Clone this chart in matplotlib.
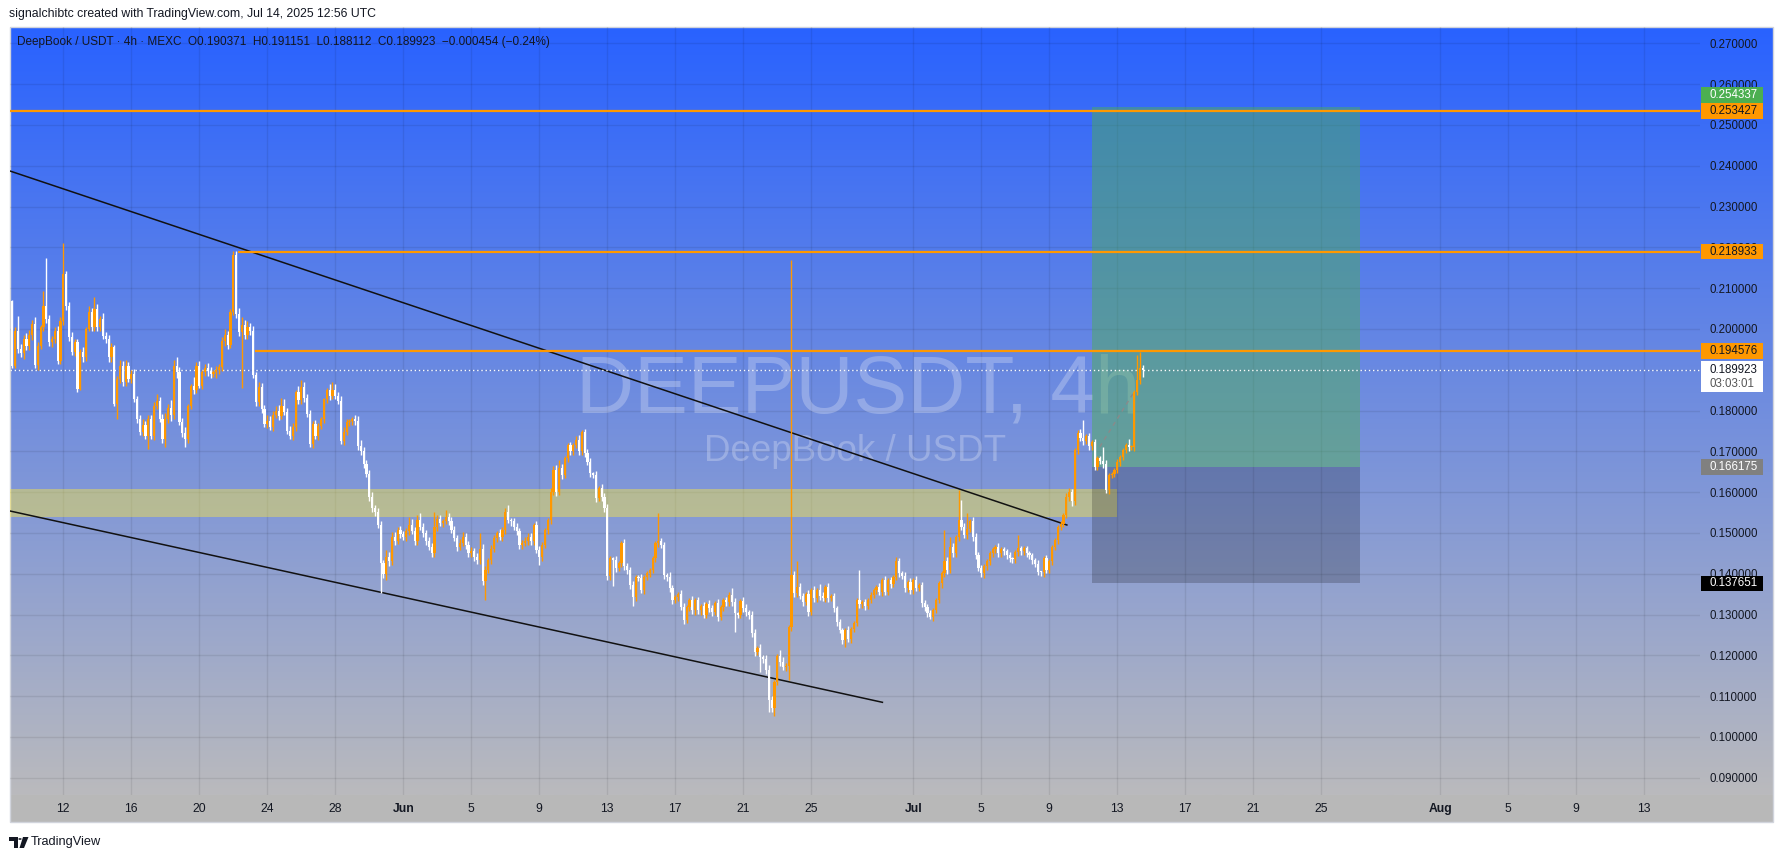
import numpy as np
import pandas as pd
import matplotlib
matplotlib.use("Agg")
import matplotlib.pyplot as plt
from matplotlib.patches import Rectangle, Polygon, Circle
from matplotlib.transforms import blended_transform_factory

# ---- data (prices x 1e-4), DEEP/USDT 4h bars from 2025-05-09 00:00 UTC ----
first_open = 2069
close = [
    1910, 1996, 1950, 1942, 1975, 1958,   # May 9
    1985, 2012, 1912, 1959, 2004, 2057,
    2024, 1967, 1975, 1996, 1922, 2020,
    2135, 2055, 1980, 1944, 1967, 1853,   # May 12
    1943, 1930, 2000, 2041, 2004, 2049,
    2004, 2024, 1983, 1975, 1930, 1955,
    1816, 1877, 1910, 1869, 1910, 1877,
    1890, 1828, 1779, 1747, 1765, 1738,   # May 16
    1779, 1738, 1812, 1824, 1779, 1730,
    1780, 1805, 1790, 1910, 1895, 1771,
    1745, 1730, 1812, 1861, 1850, 1910,
    1861, 1895, 1905, 1898, 1890, 1895,   # May 20
    1900, 1906, 1971, 1985, 1960, 2041,
    2180, 2037, 1992, 2010, 1985, 2005,
    1995, 1886, 1820, 1857, 1804, 1767,
    1775, 1760, 1790, 1800, 1787, 1812,   # May 24
    1796, 1750, 1738, 1760, 1845, 1825,
    1857, 1830, 1792, 1718, 1767, 1738,
    1762, 1779, 1828, 1850, 1835, 1850,
    1835, 1824, 1726, 1747, 1771, 1775,   # May 28
    1779, 1774, 1714, 1700, 1670, 1645,
    1589, 1560, 1552, 1520, 1426, 1400,
    1442, 1430, 1491, 1480, 1507, 1497,
    1490, 1505, 1520, 1505, 1480, 1532,   # Jun 1
    1515, 1500, 1480, 1466, 1450, 1515,
    1535, 1525, 1530, 1540, 1530, 1507,
    1487, 1466, 1475, 1491, 1470, 1450,
    1455, 1442, 1434, 1460, 1381, 1409,   # Jun 5
    1434, 1460, 1487, 1500, 1490, 1507,
    1552, 1532, 1528, 1515, 1505, 1470,
    1475, 1480, 1490, 1480, 1520, 1458,
    1442, 1470, 1507, 1532, 1601, 1654,   # Jun 9
    1601, 1658, 1642, 1683, 1716, 1700,
    1715, 1728, 1700, 1748, 1695, 1675,
    1646, 1642, 1585, 1610, 1589, 1560,
    1395, 1438, 1434, 1414, 1426, 1475,   # Jun 13
    1418, 1409, 1372, 1344, 1393, 1389,
    1360, 1393, 1401, 1409, 1438, 1475,
    1479, 1470, 1397, 1393, 1364, 1336,
    1344, 1350, 1319, 1287, 1319, 1336,   # Jun 17
    1310, 1336, 1310, 1320, 1300, 1325,
    1315, 1307, 1329, 1295, 1319, 1336,
    1330, 1349, 1330, 1303, 1300, 1332,
    1315, 1305, 1300, 1254, 1209, 1217,   # Jun 21
    1195, 1190, 1164, 1090, 1070, 1135,
    1198, 1183, 1171, 1175, 1269, 1397,
    1352, 1368, 1345, 1331, 1350, 1307,
    1360, 1340, 1360, 1345, 1340, 1368,   # Jun 25
    1340, 1345, 1315, 1282, 1262, 1238,
    1262, 1240, 1265, 1280, 1335, 1325,
    1330, 1322, 1336, 1349, 1360, 1368,
    1355, 1384, 1356, 1384, 1375, 1392,   # Jun 29
    1430, 1401, 1395, 1364, 1380, 1360,
    1384, 1366, 1372, 1327, 1319, 1303,
    1295, 1311, 1336, 1376, 1401, 1430,
    1410, 1466, 1450, 1491, 1532, 1515,   # Jul 3
    1495, 1510, 1530, 1491, 1446, 1414,
    1401, 1418, 1430, 1450, 1460, 1466,
    1450, 1460, 1455, 1445, 1438, 1435,
    1454, 1462, 1455, 1462, 1450, 1445,   # Jul 7
    1434, 1425, 1405, 1403, 1438, 1409,
    1432, 1466, 1483, 1515, 1523, 1544,
    1589, 1600, 1577, 1703, 1744, 1733,
    1725, 1737, 1712, 1723, 1662, 1683,   # Jul 11
    1677, 1670, 1605, 1642, 1645, 1654,
    1675, 1687, 1703, 1715, 1710, 1711,
    1846, 1875, 1903.71, 1899.23,
]
wick_up = [
    3, 9, 36, 12, 10, 15,   12, 10, 18, 8, 6, 37,   116, 10, 8, 9, 12, 10,
    76, 6, 10, 12, 8, 9,    7, 12, 5, 15, 10, 30,   12, 8, 15, 10, 9, 10,
    5, 8, 15, 12, 15, 10,   10, 12, 8, 9, 15, 10,   11, 10, 8, 16, 10, 12,
    15, 10, 20, 15, 20, 12, 10, 15, 3, 4, 20, 10,   12, 5, 10, 12, 8, 5,
    10, 9, 9, 15, 10, 9,    10, 12, 15, 20, 12, 15, 10, 12, 8, 13, 10, 9,
    15, 12, 10, 10, 13, 18, 16, 10, 12, 10, 5, 15,  18, 12, 10, 9, 8, 10,
    8, 6, 2, 5, 15, 20,     15, 11, 12, 13, 9, 5,   5, 10, 12, 14, 10, 8,
    10, 12, 8, 9, 10, 8,    15, 12, 10, 11, 8, 10,  7, 8, 20, 15, 10, 13,
    17, 10, 8, 9, 10, 37,   10, 10, 5, 15, 10, 8,   10, 9, 9, 10, 8, 10,
    10, 8, 8, 40, 12, 10,   5, 10, 8, 5, 10, 8,     10, 17, 4, 8, 10, 8,
    8, 10, 10, 10, 5, 9,    10, 8, 5, 5, 8, 10,     12, 21, 10, 5, 5, 8,
    5, 10, 12, 5, 6, 10,    8, 4, 10, 5, 9, 8,      10, 5, 4, 10, 5, 5,
    10, 9, 8, 10, 5, 4,     10, 5, 5, 5, 5, 5,      69, 9, 8, 4, 10, 8,
    5, 5, 10, 9, 5, 5,      10, 5, 8, 5, 10, 5,     10, 8, 5, 10, 5, 5,
    6, 5, 15, 10, 3, 5,     10, 10, 5, 8, 10, 5,    10, 5, 10, 12, 10, 5,
    5, 15, 12, 5, 5, 772,   10, 62, 10, 8, 5, 10,   5, 10, 5, 15, 10, 5,
    10, 5, 8, 6, 8, 5,      5, 10, 5, 5, 5, 74,     5, 8, 5, 5, 5, 5,
    10, 5, 10, 5, 9, 5,     10, 8, 6, 8, 5, 10,     5, 10, 5, 8, 8, 6,
    8, 5, 5, 5, 5, 77,      10, 24, 10, 5, 73, 48,  10, 40, 5, 10, 8, 6,
    8, 5, 5, 5, 5, 5,       10, 5, 5, 6, 7, 3,      5, 33, 7, 5, 6, 5,
    6, 5, 8, 2, 5, 8,       5, 5, 5, 5, 5, 5,       10, 10, 8, 5, 8, 11,
    44, 5, 8, 5, 6, 5,      6, 34, 8, 5, 5, 5,      5, 5, 5, 5, 15, 5,
    5, 61, 39, 7.8,
]
wick_dn = [
    5, 6, 10, 12, 15, 10,   10, 12, 7, 12, 8, 10,   10, 8, 12, 10, 7, 8,
    10, 8, 10, 9, 10, 8,    3, 10, 8, 6, 9, 10,     9, 10, 8, 10, 10, 12,
    6, 36, 10, 9, 8, 7,     10, 8, 9, 7, 10, 8,     32, 8, 10, 9, 8, 10,
    20, 10, 15, 10, 15, 6,  10, 20, 10, 8, 10, 8,   6, 8, 10, 13, 10, 8,
    15, 10, 8, 12, 10, 8,   8, 10, 10, 137, 10, 10, 10, 6, 10, 8, 9, 7,
    10, 8, 10, 8, 10, 8,    6, 8, 8, 10, 9, 10,     10, 8, 7, 8, 10, 8,
    10, 8, 10, 9, 10, 8,    8, 9, 8, 10, 8, 9,      10, 9, 10, 10, 10, 8,
    10, 8, 10, 8, 74, 10,   15, 10, 8, 10, 8, 10,   8, 10, 10, 8, 9, 10,
    8, 10, 10, 8, 8, 10,    10, 8, 10, 8, 10, 8,    8, 10, 9, 8, 10, 8,
    8, 10, 9, 10, 8, 46,    8, 10, 8, 10, 8, 9,     10, 8, 10, 8, 10, 10,
    10, 8, 10, 9, 10, 8,    20, 10, 8, 10, 10, 8,   10, 8, 10, 8, 10, 8,
    10, 8, 9, 10, 8, 9,     10, 8, 10, 8, 10, 9,    10, 10, 65, 10, 8, 10,
    8, 10, 9, 24, 10, 8,    8, 10, 8, 10, 8, 10,    10, 8, 10, 10, 8, 10,
    8, 10, 8, 10, 8, 10,    8, 10, 8, 10, 9, 8,     8, 10, 9, 10, 8, 10,
    8, 10, 10, 45, 9, 8,    9, 8, 10, 9, 10, 8,     35, 8, 10, 28, 10, 18,
    8, 10, 8, 10, 35, 10,   9, 10, 8, 10, 8, 10,    8, 10, 9, 10, 8, 10,
    10, 8, 9, 10, 8, 10,    17, 8, 10, 8, 9, 10,    8, 10, 8, 9, 8, 10,
    8, 10, 9, 8, 10, 8,     8, 10, 9, 8, 9, 10,     10, 8, 9, 8, 10, 8,
    7, 10, 8, 9, 10, 8,     10, 8, 10, 8, 10, 8,    8, 10, 8, 10, 9, 8,
    10, 12, 8, 9, 8, 10,    9, 8, 10, 8, 9, 8,      8, 10, 9, 8, 10, 8,
    10, 8, 9, 8, 10, 8,     8, 10, 8, 10, 9, 8,     8, 10, 12, 8, 10, 8,
    10, 8, 9, 10, 8, 9,     8, 10, 7, 10, 8, 9,     8, 10, 9, 8, 10, 8,
    10, 8, 9, 18.1,
]

# drawings
hlines_price = [0.253427, 0.218933, 0.194576]
hlines_start = [-1, 79.8, 85.6]          # bar index where each ray starts
zone_low, zone_high = 0.15397, 0.16069
zone_end = 389.9
upper_trend = [(-0.8, 0.2387), (372.2, 0.15194)]
lower_trend = [(-0.8, 0.15537), (307.1, 0.10848)]
pos_entry, pos_target, pos_stop = 0.166175, 0.254337, 0.137651
pos_start, pos_end = 381.1, 475.7
pos_path = [(383.8, 0.1711), (395.6, 0.1842)]
last_price = 0.189923

tick_dates = ["2025-05-12", "2025-05-16", "2025-05-20", "2025-05-24", "2025-05-28",
              "2025-06-01", "2025-06-05", "2025-06-09", "2025-06-13", "2025-06-17",
              "2025-06-21", "2025-06-25", "2025-07-01", "2025-07-05", "2025-07-09",
              "2025-07-13", "2025-07-17", "2025-07-21", "2025-07-25", "2025-08-01",
              "2025-08-05", "2025-08-09", "2025-08-13"]
price_ticks = [round(0.09 + 0.01 * k, 2) for k in range(19)]

# ---- build OHLC ----
c = np.array(close) / 1e4
o = np.concatenate([[first_open / 1e4], c[:-1]])
hi = np.maximum(o, c) + np.array(wick_up) / 1e4
lo = np.minimum(o, c) - np.array(wick_dn) / 1e4
start = pd.Timestamp("2025-05-09 00:00")
times = pd.date_range(start, periods=len(c), freq="4h")
x = np.arange(len(c))

W, H = 1784, 858
plt.rcParams['font.family'] = ['Liberation Sans', 'DejaVu Sans']
fig = plt.figure(figsize=(W / 100, H / 100), dpi=100)
fig.patch.set_facecolor('white')

def fx(px):
    return px / W

def fy(py):
    return 1 - py / H

TXT = '#131722'
ORANGE = '#ff9800'

# background gradient (chart + price scale)
bg = fig.add_axes([fx(10), fy(795), fx(1773) - fx(10), fy(27) - fy(795)], zorder=0)
t = np.linspace(0, 1, 300)[:, None, None]
top = np.array([41, 98, 255]) / 255
bot = np.array([186, 186, 189]) / 255
bg.imshow(top * (1 - t) + bot * t, aspect='auto', extent=[0, 1, 0, 1])
bg.axis('off')
fig.patches.append(Rectangle((fx(10), fy(822)), fx(1773) - fx(10), fy(795) - fy(822),
                             transform=fig.transFigure, facecolor='#b8b8b8', edgecolor='none', zorder=0))
fig.patches.append(Rectangle((fx(10), fy(822)), fx(1773) - fx(10), fy(27) - fy(822),
                             transform=fig.transFigure, facecolor='none', edgecolor='#d1d4dc', lw=1, zorder=0))

ax = fig.add_axes([fx(10), fy(795), fx(1700) - fx(10), fy(27) - fy(795)], zorder=1)
ax.set_facecolor('none')
ax.set_xlim(-0.81, 595.66)
ax.set_ylim(0.08576, 0.2740)
for s in ax.spines.values():
    s.set_visible(False)

# ticks / grid
tick_ts = pd.to_datetime(tick_dates)
tick_pos = (tick_ts - start) / pd.Timedelta("4h")
tick_lab = [d.strftime('%b') if d.day == 1 else str(d.day) for d in tick_ts]
ax.set_xticks(tick_pos)
ax.set_xticklabels(tick_lab)
for lab in ax.get_xticklabels():
    if not lab.get_text().isdigit():
        lab.set_fontweight('bold')
ax.set_yticks(price_ticks)
ax.set_yticklabels([f"{v:.6f}" for v in price_ticks])
ax.yaxis.tick_right()
ax.tick_params(axis='y', length=0, pad=6.5, labelsize=8.3, labelcolor=TXT)
ax.tick_params(axis='x', length=0, pad=5.5, labelsize=8.7, labelcolor=TXT)
ax.grid(True, color='black', alpha=0.08, lw=1)
ax.set_axisbelow(True)

# watermark
ax.text(0.5018, 0.525, "DEEPUSDT, 4h", transform=ax.transAxes, ha='center', va='center',
        fontsize=58, color='white', alpha=0.25, zorder=1)
ax.text(0.5, 0.447, "DeepBook / USDT", transform=ax.transAxes, ha='center', va='center',
        fontsize=26.5, color='white', alpha=0.25, zorder=1)

# zone
ax.add_patch(Rectangle((-1, zone_low), zone_end + 1, zone_high - zone_low,
                       facecolor=(1.0, 0.92, 0.23, 0.42), edgecolor='none', zorder=2))
# long position tool
ax.add_patch(Rectangle((pos_start, pos_entry), pos_end - pos_start, pos_target - pos_entry,
                       facecolor=(0.30, 0.69, 0.31, 0.45), edgecolor='none', zorder=2))
ax.add_patch(Rectangle((pos_start, pos_stop), pos_end - pos_start, pos_entry - pos_stop,
                       facecolor=(0, 0, 0, 0.2), edgecolor='none', zorder=2))
ax.plot(*zip(*pos_path), color='#8a8a8a', lw=1, ls=(0, (3, 3)), zorder=3)

# trend lines
ax.plot(*zip(*upper_trend), color='#111111', lw=1.1, zorder=3)
ax.plot(*zip(*lower_trend), color='#111111', lw=1.1, zorder=3)

# horizontal rays
for p, s0 in zip(hlines_price, hlines_start):
    ax.hlines(p, s0, 595.66, color=ORANGE, lw=1.6, zorder=4)

# candles
col = np.where(c >= o, ORANGE, '#ffffff')
ax.vlines(x, lo, hi, colors=col, lw=1.0, zorder=5)
ax.bar(x, np.maximum(np.abs(c - o), 0.00025), bottom=np.minimum(o, c), width=0.74,
       color=col, lw=0, zorder=6)

# last price dotted line
ax.axhline(last_price, color='white', lw=1, ls=(0, (1, 2)), zorder=4)

# price scale labels
bt = blended_transform_factory(fig.transFigure, ax.transData)
PX = 0.01 / 40.8

def scale_box(p_center, txt, face, tcol, hpx=15.5):
    ax.add_patch(Rectangle((fx(1701), p_center - hpx / 2 * PX), fx(1763) - fx(1701), hpx * PX,
                           transform=bt, facecolor=face, edgecolor='none', clip_on=False, zorder=10))
    ax.text(fx(1709), p_center, txt, transform=bt, ha='left', va='center', fontsize=8.3,
            color=tcol, clip_on=False, zorder=11)

scale_box(hlines_price[0] + 16 * PX, f"{pos_target:.6f}", '#4caf50', 'white')
scale_box(hlines_price[0], f"{hlines_price[0]:.6f}", ORANGE, TXT)
scale_box(hlines_price[1], f"{hlines_price[1]:.6f}", ORANGE, TXT)
scale_box(hlines_price[2], f"{hlines_price[2]:.6f}", ORANGE, TXT)
scale_box(pos_entry, f"{pos_entry:.6f}", '#808080', 'white')
scale_box(pos_stop, f"{pos_stop:.6f}", '#000000', 'white')
# last price with countdown
ax.add_patch(Rectangle((fx(1701), last_price - 22 * PX), fx(1763) - fx(1701), 31 * PX,
                       transform=bt, facecolor='white', edgecolor='none', clip_on=False, zorder=10))
ax.text(fx(1709), last_price, f"{last_price:.6f}", transform=bt, ha='left', va='center',
        fontsize=8.3, color=TXT, clip_on=False, zorder=11)
ax.text(fx(1709), last_price - 14 * PX, "03:03:01", transform=bt, ha='left', va='center',
        fontsize=8.3, color='#555555', clip_on=False, zorder=11)

# header texts
fig.text(fx(9), fy(14), "signalchibtc created with TradingView.com, Jul 14, 2025 12:56 UTC",
         ha='left', va='center', fontsize=8.8, color=TXT)
fig.text(fx(17), fy(42),
         "DeepBook / USDT \u00b7 4h \u00b7 MEXC  O0.190371  H0.191151  L0.188112  C0.189923  \u22120.000454 (\u22120.24%)",
         ha='left', va='center', fontsize=8.5, color=TXT, zorder=5)

# TradingView logo
def pts(seq):
    return [(fx(a), fy(b)) for a, b in seq]

fig.patches.append(Polygon(pts([(9, 837), (17.5, 837), (17.5, 848), (13.5, 848), (13.5, 840.5), (9, 840.5)]),
                           closed=True, transform=fig.transFigure, facecolor=TXT, edgecolor='none'))
fig.patches.append(Circle((fx(20), fy(839)), 1.7 / W, transform=fig.transFigure, facecolor=TXT))
fig.patches.append(Polygon(pts([(23, 837), (28.5, 837), (24, 848), (19.5, 848)]),
                           closed=True, transform=fig.transFigure, facecolor=TXT, edgecolor='none'))
fig.text(fx(31), fy(842.5), "TradingView", ha='left', va='center', fontsize=9.2, color=TXT)

fig.savefig("out.png", dpi=100)
